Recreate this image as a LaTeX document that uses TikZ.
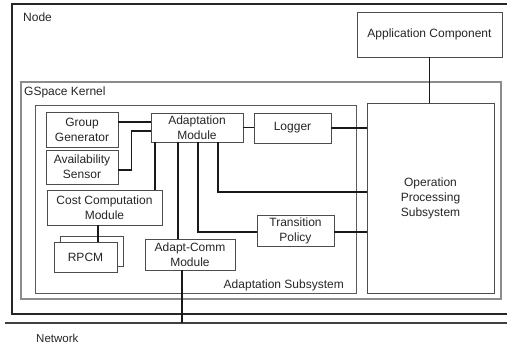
\documentclass[tikz,border=0pt]{standalone}
\usepackage{fontspec}
\setmainfont{Liberation Sans}
\usetikzlibrary{calc}

\tikzset{
  box/.style = {draw = black!70, line width = 0.9pt, fill = white, align = center, inner sep = 1pt, text = black!85, font = \fontsize{12}{15}\selectfont},
  link/.style = {line width = 1.3pt, black!90},
  lbl/.style = {text = black!85, font = \fontsize{12}{15}\selectfont, inner sep = 0pt}
}

\begin{document}
\begin{tikzpicture}[x = 1pt, y = -1pt]
        \useasboundingbox (0,0) rectangle (507,348);
        % points
        \coordinate (nodeTR) at (507,4);
        \coordinate (nodeTL) at (12,4);
        \coordinate (nodeBL) at (12,314);
        \coordinate (nodeBR) at (507,314);
        \coordinate (netL) at (5,323);
        \coordinate (netR) at (507,323);
        % frames
        \path[draw, line width = 1.4pt, black!85](nodeTR)--(nodeTL)--(nodeBL)--(nodeBR);
        \path[draw, line width = 1.2pt, black!45](21,82)rectangle(501,299);
        \path[draw, line width = 1pt, black!65](35,105)rectangle(356,293);
        \path[draw, line width = 1.2pt, black!75](netL)--(netR);
        % labels
        \node[lbl, anchor = west](nodelbl) at (23,17) {Node};
        \node[lbl, anchor = west](kernellbl) at (24,92) {GSpace Kernel};
        \node[lbl, anchor = east](subsyslbl) at (344,285) {Adaptation Subsystem};
        \node[lbl, anchor = west, font = \fontsize{11.5}{14}\selectfont](netlbl) at (36,338) {Network};
        % boxes
        \node[box, minimum width = 145pt, minimum height = 45pt](appcomp) at (429.5,34.5) {Application Component};
        \node[box, minimum width = 127pt, minimum height = 190pt](ops) at (430.5,198) {Operation\\Processing\\Subsystem};
        \node[box, minimum width = 72pt, minimum height = 35pt](gengroup) at (82,129.5) {Group\\Generator};
        \node[box, minimum width = 72pt, minimum height = 34pt](avail) at (82,167) {Availability\\Sensor};
        \node[box, minimum width = 92pt, minimum height = 29pt](adapt) at (197,127.5) {Adaptation\\Module};
        \node[box, minimum width = 77pt, minimum height = 30pt](logger) at (292.5,128) {Logger};
        \node[box, minimum width = 115pt, minimum height = 35pt](cost) at (104.5,207.5) {Cost Computation\\Module};
        \node[box, minimum width = 63pt, minimum height = 30pt](rpcmback) at (91.5,251) {};
        \node[box, minimum width = 63pt, minimum height = 30pt](rpcm) at (85.5,257) {RPCM};
        \node[box, minimum width = 90pt, minimum height = 31pt](adaptcomm) at (190,254.5) {Adapt-Comm\\Module};
        \node[box, minimum width = 77pt, minimum height = 31pt](trans) at (295.5,230.5) {Transition\\Policy};
        % connectors
        \coordinate (ggout) at ([yshift = 7.5pt]gengroup.east);
        \path[draw, link](ggout)--(ggout -| adapt.west);
        \path[draw, link]([yshift = -3pt]avail.east)--++(13,0)|-([yshift = -3.5pt]adapt.west);
        \path[draw, link]([xshift = -42pt]adapt.south)--([xshift = -42pt]adapt.south |- cost.north);
        \path[draw, link]([xshift = -19pt]adapt.south)--([xshift = -19pt]adapt.south |- adaptcomm.north);
        \path[draw, link]([xshift = 1pt]adapt.south)|-([yshift = -1.5pt]trans.west);
        \path[draw, link]([xshift = 21pt]adapt.south)|-([yshift = 6pt]ops.west);
        \path[draw, link](adapt.east)--(adapt.east -| logger.west);
        \path[draw, link](logger.east)--(logger.east -| ops.west);
        \path[draw, link]([yshift = -1.5pt]trans.east)--([yshift = -1.5pt]trans.east -| ops.west);
        \path[draw, link](appcomp.south)--(appcomp.south |- ops.north);
        \path[draw, link]([xshift = -6.5pt]cost.south)--([xshift = -6.5pt]cost.south |- rpcm.north);
        \path[draw, link]([xshift = -8pt]adaptcomm.south)--([xshift = -8pt]adaptcomm.south |- netL);
\end{tikzpicture}
\end{document}
